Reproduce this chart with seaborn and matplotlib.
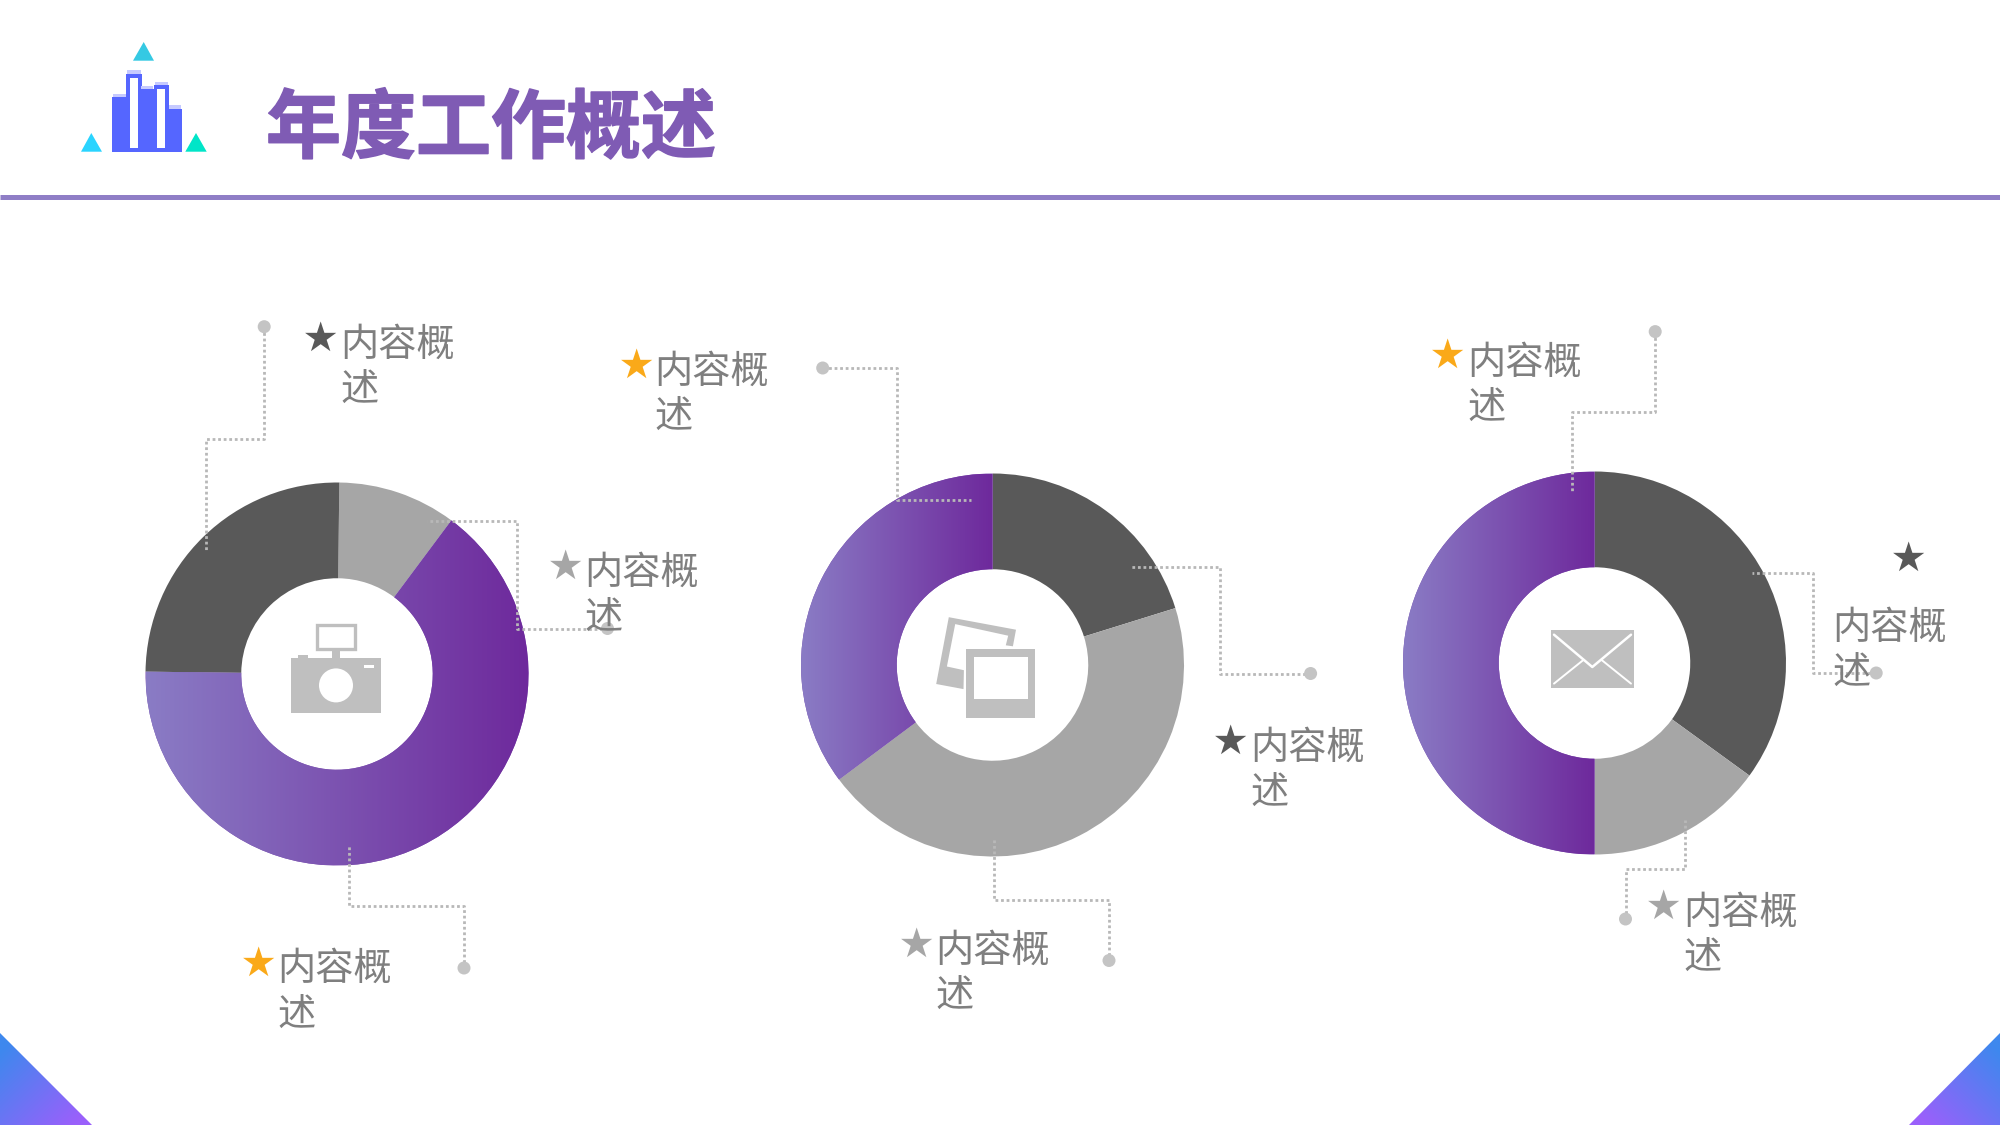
import numpy as np
import matplotlib
matplotlib.use('Agg')
import matplotlib.pyplot as plt
import matplotlib.patheffects as pe
from matplotlib.patches import Circle, Polygon, Rectangle
import seaborn as sns

sns.set_theme(style='white')
plt.rcParams['font.family'] = ['Noto Sans CJK SC', 'DejaVu Sans']

# share of each ring, clockwise from 12 o'clock
ring1_values = [10, 65, 25]
ring1_kinds = ['gray', 'purple', 'dark']
ring2_values = [20.2, 44.6, 35.2]
ring2_kinds = ['dark', 'gray', 'purple']
ring3_values = [35, 15, 50]
ring3_kinds = ['dark', 'gray', 'purple']

title = '年度工作概述'
label = '内容概\n述'

DARK = '#595959'
GRAY = '#A6A6A6'
ORANGE = '#FAA919'
TEXT = '#7F7F7F'
LEAD = '#B8B8B8'
ICON = '#BFBFBF'
kind_colors = {'dark': DARK, 'gray': GRAY, 'purple': '#7D4FB0'}
ring_cmap = sns.blend_palette(['#8A7CC5', '#6E299C'], n_colors=256, as_cmap=True)
corner_cmap = sns.blend_palette(['#3E88EE', '#9A60FB'], n_colors=256, as_cmap=True)

W, H = 2000, 1125
fig = plt.figure(figsize=(20, 11.25), dpi=100, facecolor='white')


def donut(cx, cy, r, values, kinds, start=90):
    ax = fig.add_axes([(cx - r) / W, 1 - (cy + r) / H, 2 * r / W, 2 * r / H])
    wedges, _ = ax.pie(values, colors=[kind_colors[k] for k in kinds], startangle=start,
                       counterclock=False, radius=1, wedgeprops={'width': 0.5, 'linewidth': 0})
    for w, k in zip(wedges, kinds):
        if k == 'purple':
            box = w.get_path().get_extents(w.get_patch_transform())
            im = ax.imshow(np.linspace(0, 1, 256).reshape(1, -1), cmap=ring_cmap, aspect='auto',
                           extent=[box.x0, box.x1, -1, 1], zorder=3)
            im.set_clip_path(w)
    ax.set_xlim(-1, 1)
    ax.set_ylim(-1, 1)
    ax.axis('off')


donut(337, 674, 191.5, ring1_values, ring1_kinds, start=89.3)
donut(992.5, 665, 191.5, ring2_values, ring2_kinds)
donut(1594.5, 663, 191.5, ring3_values, ring3_kinds)

# overlay in pixel coordinates, same as the picture
ov = fig.add_axes([0, 0, 1, 1], zorder=5)
ov.set_xlim(0, W)
ov.set_ylim(H, 0)
ov.axis('off')
ov.patch.set_alpha(0)

# header
ov.plot([0, W], [197, 197], color='#8F7EC6', lw=3.6, solid_capstyle='butt')
ov.text(266, 130, title, fontsize=54, fontweight='bold', color='#7F5BB4', va='center', ha='left',
        path_effects=[pe.withStroke(linewidth=1.2, foreground='#7F5BB4')])

# logo
for pts, c in [([(143.7, 42), (133, 60.7), (154, 60.7)], '#35C9E3'),
               ([(91.3, 133), (81, 151.7), (102, 151.7)], '#2AD4FF'),
               ([(196, 133), (185.3, 151.7), (206.7, 151.7)], '#00E5C8')]:
    ov.add_patch(Polygon(pts, closed=True, fc=c, ec='none'))
bar_spans = [(112, 127.5, 97), (125.5, 141.5, 73.5), (139.5, 154, 89), (153.5, 168.5, 85), (167.5, 182, 108.5)]
for x0, x1, top in bar_spans:
    ov.add_patch(Rectangle((x0, top), x1 - x0, 151.7 - top, fc='#5566FF', ec='none'))
    ov.add_patch(Rectangle((x0 + 1, top - 3.5), x1 - x0 - 2, 3.5, fc='#C6CAFF', ec='none'))
ov.add_patch(Rectangle((129.5, 77.5), 8.5, 70.5, fc='white', ec='none', zorder=3))
ov.add_patch(Rectangle((156.5, 89), 8.5, 59, fc='white', ec='none', zorder=3))

# corner triangles
for pts, ext, flip in [([(0, 1033), (92, H), (0, H)], [0, 92, H, 1033], False),
                       ([(W, 1033), (1909, H), (W, H)], [1909, W, H, 1033], True)]:
    gx, gy = np.meshgrid(np.linspace(0, 1, 128), np.linspace(0, 1, 128))
    grad = (gx if not flip else 1 - gx) * 0.5 + gy * 0.5
    im = ov.imshow(grad, cmap=corner_cmap, extent=ext, aspect='auto', vmin=0.1, vmax=0.9)
    patch = Polygon(pts, closed=True, transform=ov.transData, fc='none', ec='none')
    ov.add_patch(patch)
    im.set_clip_path(patch)
ov.set_xlim(0, W)
ov.set_ylim(H, 0)

# leader lines, the first point carries the dot
leaders = [
    [(264.2, 326.7), (264.2, 438.5), (206.1, 438.5), (206.1, 551)],
    [(607.5, 628.5), (517, 628.5), (517, 520.5), (427, 520.5)],
    [(464, 968), (464, 905.5), (349.2, 905.5), (349.2, 845)],
    [(822.7, 368), (896.5, 368), (896.5, 500), (971, 500)],
    [(1310.6, 673.5), (1219.5, 673.5), (1219.5, 566.5), (1130, 566.5)],
    [(1109, 960.5), (1109, 899.5), (994.2, 899.5), (994.2, 838)],
    [(1655.2, 331.6), (1655.2, 412), (1571.5, 412), (1571.5, 492)],
    [(1876.2, 673), (1813.3, 673), (1813.3, 572.8), (1751.7, 572.8)],
    [(1625.5, 919), (1625.5, 869), (1685, 869), (1685, 820)],
]
for pts in leaders:
    xs, ys = zip(*pts)
    ov.plot(xs, ys, color=LEAD, lw=2.0, ls=(0, (1, 1)), dash_capstyle='butt', zorder=4)
    ov.add_patch(Circle(pts[0], 6.5, fc='#C4C4C4', ec='none', zorder=4))

# star x, star y, star colour, text x, first baseline y
notes = [
    (320, 339, DARK, 340, 355),
    (565, 567, GRAY, 584, 583),
    (258, 964, ORANGE, 277, 979.5),
    (636, 366, ORANGE, 654, 382),
    (1230, 742, DARK, 1250, 758),
    (916, 945, GRAY, 935, 961),
    (1447, 356, ORANGE, 1467, 373),
    (1908, 559, DARK, 1832, 638),
    (1663, 907, GRAY, 1683, 923),
]
for sx, sy, sc, tx, ty in notes:
    ov.text(sx, sy, '★', color=sc, fontsize=24, ha='center', va='center', zorder=6)
    # matplotlib anchors a two line text on its last baseline
    ov.text(tx, ty + 46, label, color=TEXT, fontsize=27.5, ha='left', va='baseline', linespacing=1.21, zorder=6)

# centre icons
ov.add_patch(Rectangle((290.8, 658), 89.8, 55, fc=ICON, ec='none'))
ov.add_patch(Rectangle((298, 655), 10, 3, fc=ICON, ec='none'))
ov.add_patch(Rectangle((332, 650), 7.5, 8, fc=ICON, ec='none'))
ov.add_patch(Rectangle((316.5, 625), 38.5, 24, fc='none', ec=ICON, lw=2.4))
ov.add_patch(Circle((336, 685.4), 17, fc='white', ec='none'))
ov.add_patch(Rectangle((363.6, 665), 10, 3, fc='white', ec='none'))

ov.add_patch(Polygon([(948.8, 617.2), (1016, 629.7), (1012.9, 646.3), (1005.8, 645.3), (1008.2, 635.7),
                      (955.2, 624.1), (946.9, 666.5), (963.9, 670.2), (963.5, 689.1), (936.2, 684)],
                     closed=True, fc=ICON, ec='none'))
ov.add_patch(Rectangle((966, 649), 69, 68.7, fc=ICON, ec='none'))
ov.add_patch(Rectangle((974, 657), 54, 42, fc='white', ec='none'))

ov.add_patch(Rectangle((1551.2, 630), 82.7, 58, fc=ICON, ec='none'))
ov.plot([1554, 1592.3, 1631], [634.7, 667, 634.7], color='white', lw=1.8)
ov.plot([1554, 1583.6], [683.6, 659.8], color='white', lw=1.4)
ov.plot([1631, 1601.4], [683.6, 659.8], color='white', lw=1.4)

fig.savefig('out.png', dpi=100)
